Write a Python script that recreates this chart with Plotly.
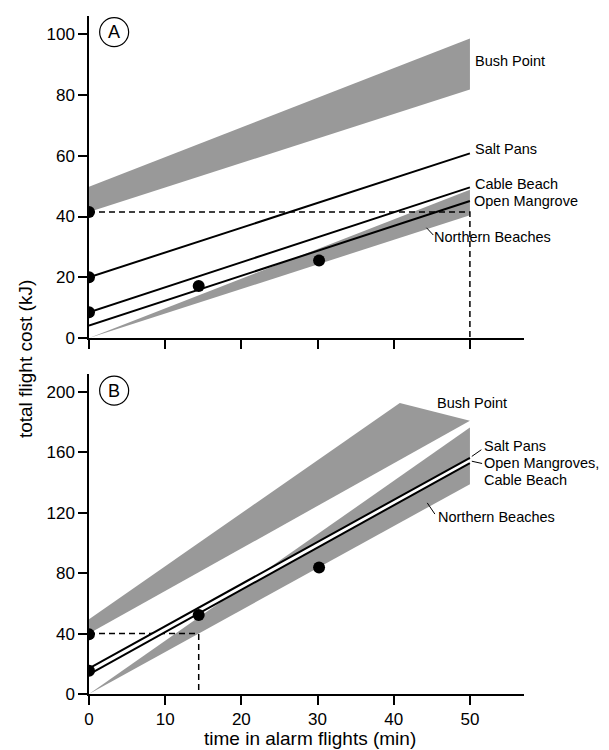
import plotly.graph_objects as go

# ---------------- data ----------------
t_end = [0, 50]

# Panel A
bushA_x = [0, 50, 50, 0]
bushA_y = [41.5, 81.8, 98.6, 49.8]
northA_x = [0, 50, 50]
northA_y = [0, 48.8, 40.4]
saltA = [20, 60.8]
cableA = [8.5, 49.6]
mangroveA = [4.1, 45.1]
dotsA_x = [0, 0, 0, 14.4, 30.2]
dotsA_y = [41.5, 20, 8.5, 17.1, 25.5]
dashA_x = [0, 50, 50]
dashA_y = [41.5, 41.5, 0]

# Panel B
bushB_x = [0, 50, 40.8, 0]
bushB_y = [40, 181, 192.8, 49.5]
northB_x = [0, 50, 50]
northB_y = [0, 176.5, 139]
saltB = [17, 156.5]
mangcableB = [13, 153]
dotsB_x = [0, 0, 14.4, 30.2]
dotsB_y = [39.5, 15.4, 52.3, 83.8]
dashB_x = [0, 14.4, 14.4]
dashB_y = [40, 40, 0]

x_ticks = [0, 10, 20, 30, 40, 50]
yA_ticks = [0, 20, 40, 60, 80, 100]
yB_ticks = [0, 40, 80, 120, 160, 200]

GRAY = "#999999"
FONT = "Liberation Sans"

fig = go.Figure()

def band(x, y, xa, ya):
    fig.add_trace(go.Scatter(x=x, y=y, fill="toself", fillcolor=GRAY, mode="lines",
                             line=dict(width=0, color=GRAY), xaxis=xa, yaxis=ya,
                             hoverinfo="skip", showlegend=False))

def line(y, xa, ya, color="black", width=2, dash=None, x=None):
    fig.add_trace(go.Scatter(x=x if x is not None else t_end, y=y, mode="lines",
                             line=dict(color=color, width=width, dash=dash),
                             xaxis=xa, yaxis=ya, showlegend=False, hoverinfo="skip"))

def dots(x, y, xa, ya):
    fig.add_trace(go.Scatter(x=x, y=y, mode="markers",
                             marker=dict(color="black", size=12),
                             xaxis=xa, yaxis=ya, showlegend=False, hoverinfo="skip"))

# Panel A
band(bushA_x, bushA_y, "x", "y")
band(northA_x, northA_y, "x", "y")
line(dashA_y, "x", "y", width=1.5, dash="6px,4px", x=dashA_x)
line(saltA, "x", "y")
line(cableA, "x", "y")
line(mangroveA, "x", "y")
dots(dotsA_x, dotsA_y, "x", "y")

# Panel B
band(bushB_x, bushB_y, "x2", "y2")
band(northB_x, northB_y, "x2", "y2")
line(dashB_y, "x2", "y2", width=1.5, dash="6px,4px", x=dashB_x)
line([(a + b) / 2 for a, b in zip(saltB, mangcableB)], "x2", "y2", color="white", width=5)
line(saltB, "x2", "y2")
line(mangcableB, "x2", "y2")
dots(dotsB_x, dotsB_y, "x2", "y2")

ann = []
def label(text, x, y, xr, yr):
    ann.append(dict(text=text, x=x, y=y, xref=xr, yref=yr, xanchor="left", yanchor="middle",
                    showarrow=False, font=dict(family=FONT, size=14.5, color="black"),
                    align="left", borderpad=0))

label("Bush Point", 50.6, 91.3, "x", "y")
label("Salt Pans", 50.6, 62.1, "x", "y")
label("Cable Beach", 50.6, 50.7, "x", "y")
label("Open Mangrove", 50.4, 45.0, "x", "y")
label("Northern Beaches", 45.2, 33.4, "x", "y")

label("Bush Point", 45.6, 192.8, "x2", "y2")
label("Salt Pans", 51.7, 164.6, "x2", "y2")
label("Open Mangroves,", 51.7, 152.7, "x2", "y2")
label("Cable Beach", 51.7, 141.8, "x2", "y2")
label("Northern Beaches", 45.7, 117.5, "x2", "y2")

# leader lines
line([36.3, 33.9], "x", "y", width=1, x=[44.3, 45.2])
line([126.6, 119.2], "x2", "y2", width=1, x=[44.4, 45.4])
line([157.4, 161.8], "x2", "y2", width=1, x=[50.25, 51.5])
line([154.2, 152.7], "x2", "y2", width=1, x=[50.25, 51.6])

# panel letters
shapes = []
for letter, yv, xr, yr in [("A", 100.7, "x", "y"), ("B", 201.0, "x2", "y2")]:
    shapes.append(dict(type="circle", xref=xr, yref=yr, xsizemode="pixel", ysizemode="pixel",
                       xanchor=3.3, yanchor=yv, x0=-14.5, x1=14.5, y0=-14.5, y1=14.5,
                       line=dict(color="black", width=1.2)))
    ann.append(dict(text=letter, x=3.3, y=yv, xref=xr, yref=yr, showarrow=False,
                    xanchor="center", yanchor="middle",
                    font=dict(family=FONT, size=18, color="black")))

ann.append(dict(text="total flight cost (kJ)", x=-0.147, y=0.494, xref="paper", yref="paper",
                textangle=-90, showarrow=False, xanchor="center", yanchor="middle",
                font=dict(family=FONT, size=19, color="black")))
ann.append(dict(text="time in alarm flights (min)", x=0.508, y=-0.066, xref="paper", yref="paper",
                showarrow=False, xanchor="center", yanchor="middle",
                font=dict(family=FONT, size=19, color="black")))

axis_common = dict(showgrid=False, zeroline=False, showline=True, linecolor="black", linewidth=1.5,
                   ticks="outside", tickcolor="black", tickwidth=1.5,
                   tickfont=dict(family=FONT, size=17, color="black"))

fig.update_layout(
    width=601, height=742,
    margin=dict(l=81, r=85, t=8, b=56),
    paper_bgcolor="white", plot_bgcolor="white",
    showlegend=False,
    xaxis=dict(**axis_common, range=[0, 57.1], tickvals=x_ticks, showticklabels=False,
               anchor="y", ticklen=9),
    xaxis2=dict(**axis_common, range=[0, 57.1], tickvals=x_ticks, anchor="y2", ticklen=9),
    yaxis=dict(**axis_common, range=[0, 106], tickvals=yA_ticks, domain=[0.525, 1],
               anchor="x", ticklen=9),
    yaxis2=dict(**axis_common, range=[0, 212], tickvals=yB_ticks, domain=[0, 0.472],
                anchor="x2", ticklen=9),
    annotations=ann, shapes=shapes,
)

fig.write_html("out.html")
